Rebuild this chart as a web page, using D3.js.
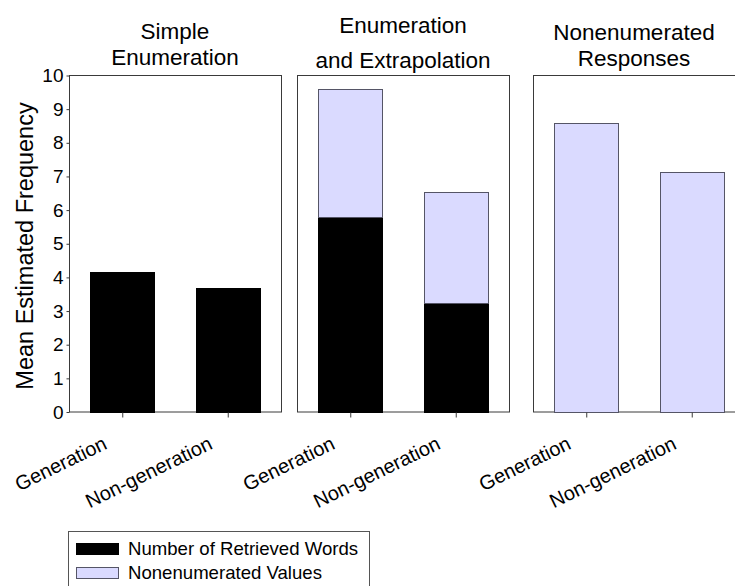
<!DOCTYPE html>
<html>
<head>
<meta charset="utf-8">
<script src="https://cdn.jsdelivr.net/npm/d3@7"></script>
<style>
  html, body { margin: 0; padding: 0; background: #fff; }
  svg { display: block; font-family: "Liberation Sans", Arial, sans-serif; }
</style>
</head>
<body>
<svg id="chart" width="735" height="586"></svg>
<script>
// Three panels of mean estimated frequency, by condition
const panelTitles = [
  ["Simple", "Enumeration"],
  ["Enumeration", "and Extrapolation"],
  ["Nonenumerated", "Responses"]
];
const conditions = ["Generation", "Non-generation"];
// Number of retrieved words (bottom segment) per panel
const retrievedWords = [
  [4.15, 3.68],
  [5.79, 3.23],
  [0, 0]
];
// Nonenumerated values (stacked on top) per panel
const nonenumeratedValues = [
  [0, 0],
  [3.78, 3.30],
  [8.57, 7.12]
];
const yTicks = [0, 1, 2, 3, 4, 5, 6, 7, 8, 9, 10];
const seriesNames = ["Number of Retrieved Words", "Nonenumerated Values"];
const seriesColors = ["#000000", "#dadaff"];
const seriesStrokes = ["#000000", "#555566"];

const svg = d3.select("#chart");

// panel frames (left, width) and title baselines
const panelLeft = [69, 297, 533];
const panelWidth = 212;
const titleX = [175, 403, 634];
const titleBaselines = [[39, 65], [33, 68], [40, 66]];

const y = d3.scaleLinear().domain([0, 10]).range([411.5, 75]);
const x = d3.scaleBand().domain(conditions).range([0, panelWidth])
  .paddingInner(0.39).paddingOuter(0.2);

panelLeft.forEach((left, p) => {
  const g = svg.append("g").attr("transform", `translate(${left},0)`);

  // frame
  g.append("rect")
    .attr("x", 0.5).attr("y", y(10) + 0.5)
    .attr("width", panelWidth).attr("height", y(0) - y(10))
    .attr("fill", "none").attr("stroke", "#3a3a3a").attr("stroke-width", 1);

  // stacked bars
  const stacks = conditions.map((c, i) => {
    const a = retrievedWords[p][i], b = nonenumeratedValues[p][i];
    return [[0, a], [a, a + b]];
  });
  conditions.forEach((c, i) => {
    stacks[i].forEach((seg, s) => {
      if (seg[1] - seg[0] <= 0) return;
      g.append("rect")
        .attr("x", Math.round(x(c)) + 0.5)
        .attr("y", Math.round(y(seg[1])) + 0.5)
        .attr("width", Math.round(x.bandwidth()))
        .attr("height", Math.round(y(seg[0])) - Math.round(y(seg[1])))
        .attr("fill", seriesColors[s])
        .attr("stroke", seriesStrokes[s])
        .attr("stroke-width", 1);
    });
  });

  // bottom axis ticks
  const xAxis = d3.axisBottom(x).tickSize(5).tickFormat("");
  const ax = g.append("g").attr("transform", `translate(0.5,${Math.round(y(0)) + 0.5})`).call(xAxis);
  ax.select(".domain").remove();
  ax.selectAll(".tick line").attr("stroke", "#3a3a3a");

  // rotated category labels
  conditions.forEach(c => {
    const cx = x(c) + x.bandwidth() / 2;
    g.append("text")
      .attr("transform", `translate(${cx - 14},448) rotate(-26)`)
      .attr("text-anchor", "end")
      .attr("font-size", 20)
      .attr("fill", "#000")
      .text(c);
  });

  // two-line title
  panelTitles[p].forEach((line, k) => {
    svg.append("text")
      .attr("x", titleX[p]).attr("y", titleBaselines[p][k])
      .attr("text-anchor", "middle")
      .attr("font-size", 22.5)
      .attr("fill", "#000")
      .text(line);
  });
});

// left value axis
const yAxis = d3.axisLeft(y).tickValues(yTicks).tickSize(3).tickPadding(3).tickFormat(d3.format("d"));
const yg = svg.append("g").attr("transform", `translate(69.5,0.5)`).call(yAxis);
yg.select(".domain").remove();
yg.selectAll(".tick line").attr("stroke", "#3a3a3a");
yg.selectAll(".tick text").attr("font-size", 19).attr("fill", "#000")
  .attr("font-family", "'Liberation Sans', Arial, sans-serif");

svg.append("text")
  .attr("transform", `translate(33,246) rotate(-90)`)
  .attr("text-anchor", "middle")
  .attr("font-size", 23.5)
  .attr("fill", "#000")
  .text("Mean Estimated Frequency");

// legend
const legend = svg.append("g");
legend.append("rect")
  .attr("x", 68.5).attr("y", 531.5).attr("width", 301).attr("height", 70)
  .attr("fill", "#fff").attr("stroke", "#555").attr("stroke-width", 1);
seriesNames.forEach((name, i) => {
  const yy = 543 + i * 24;
  legend.append("rect")
    .attr("x", 76.5).attr("y", yy + 0.5).attr("width", 42).attr("height", 11)
    .attr("fill", seriesColors[i]).attr("stroke", seriesStrokes[i]);
  legend.append("text")
    .attr("x", 128).attr("y", yy + 12)
    .attr("font-size", 18.6)
    .attr("fill", "#000")
    .text(name);
});
</script>
</body>
</html>
